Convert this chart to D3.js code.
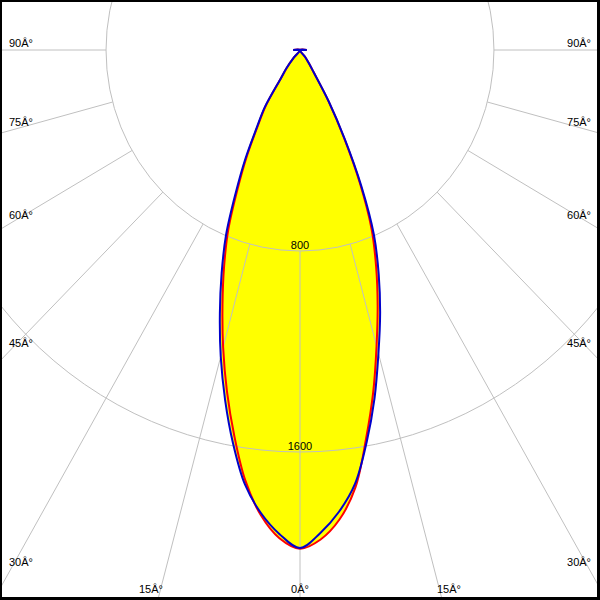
<!DOCTYPE html>
<html>
<head>
<meta charset="utf-8">
<script src="https://cdn.jsdelivr.net/npm/d3@7"></script>
<style>
  html, body { margin: 0; padding: 0; background: #fff; }
  svg { display: block; }
  text { font-family: "Liberation Sans", Arial, sans-serif; font-size: 11px; fill: #000; }
</style>
</head>
<body>
<svg id="chart" width="600" height="600"></svg>
<script>
// ---- data ----
const angles = [-90,-85,-80,-75,-70,-65,-60,-55,-50,-45,-40,-37.5,-35,-32.5,-30,-27.5,-25,-22.5,-20,-17.5,-15,-12.5,-10,-7.5,-5,-2.5,
  0,2.5,5,7.5,10,12.5,15,17.5,20,22.5,25,27.5,30,32.5,35,37.5,40,45,50,55,60,65,70,75,80,85,90];
// C90-C270 plane (blue)
const blueValues = [28,0,0,0,0,0,0,0,0,0,40,92,138,271,357,487,627,797,945,1099,1263,1427,1590,1743,1850,1929,
  1982,1924,1845,1741,1584,1420,1250,1099,949,797,600,400,240,105,62,35,0,0,0,0,0,0,0,0,0,0,28];
// C0-C180 plane (red)
const redValues = [28,0,0,0,0,0,0,0,0,0,40,90,135,262,347,472,608,772,915,1063,1225,1392,1560,1728,1858,1945,
  1985,1950,1875,1755,1570,1395,1220,1065,918,772,585,390,235,103,60,35,0,0,0,0,0,0,0,0,0,0,28];
const ringValues = [800, 1600];
const spokeAngles = [-90,-75,-60,-45,-30,-15,0,15,30,45,60,75,90];
const angleLabels = [
  {text: "90Â°", x: 9,   y: 47,  anchor: "start"},
  {text: "75Â°", x: 9,   y: 126, anchor: "start"},
  {text: "60Â°", x: 9,   y: 219, anchor: "start"},
  {text: "45Â°", x: 9,   y: 347, anchor: "start"},
  {text: "30Â°", x: 9,   y: 566, anchor: "start"},
  {text: "15Â°", x: 151, y: 593, anchor: "middle"},
  {text: "0Â°",  x: 300, y: 593, anchor: "middle"},
  {text: "15Â°", x: 449, y: 593, anchor: "middle"},
  {text: "30Â°", x: 591, y: 566, anchor: "end"},
  {text: "45Â°", x: 591, y: 347, anchor: "end"},
  {text: "60Â°", x: 591, y: 219, anchor: "end"},
  {text: "75Â°", x: 591, y: 126, anchor: "end"},
  {text: "90Â°", x: 591, y: 47,  anchor: "end"}
];

// ---- geometry ----
const W = 600, H = 600;
const cx = 300, cy = 50, kx = 0.965;
const r = d3.scaleLinear().domain([0, 1600]).range([0, 402]);
function pt(angleDeg, I) {
  const a = angleDeg * Math.PI / 180;
  return [cx + r(I) * Math.sin(a) * kx, cy + r(I) * Math.cos(a)];
}

const svg = d3.select("#chart");
svg.append("rect").attr("x", 0).attr("y", 0).attr("width", W).attr("height", H).attr("fill", "#000");
svg.append("rect").attr("x", 2).attr("y", 2).attr("width", 595).attr("height", 595).attr("fill", "#fff");

svg.append("defs").append("clipPath").attr("id", "clip")
  .append("rect").attr("x", 2).attr("y", 2).attr("width", 595).attr("height", 595);
const g = svg.append("g").attr("clip-path", "url(#clip)");

// build curve points; drop repeated centre points so the smoothing stays clean
function curvePoints(vals) {
  const pts = [];
  angles.forEach((a, i) => {
    const p = pt(a, vals[i]);
    const prev = pts[pts.length - 1];
    if (!prev || Math.hypot(prev[0] - p[0], prev[1] - p[1]) > 0.01) pts.push(p);
  });
  return pts;
}
const blue = curvePoints(blueValues);
const red = curvePoints(redValues);
const line = d3.line().curve(d3.curveCatmullRomClosed.alpha(0.5));

// yellow fill (union of both curves)
g.append("path").attr("d", line(red)).attr("fill", "#ffff00").attr("stroke", "none");
g.append("path").attr("d", line(blue)).attr("fill", "#ffff00").attr("stroke", "none");

// grid
const gridColor = "#c0c0c0";
g.selectAll("ellipse.ring").data(ringValues).join("ellipse")
  .attr("class", "ring")
  .attr("cx", cx).attr("cy", cy)
  .attr("rx", d => r(d) * kx).attr("ry", d => r(d))
  .attr("fill", "none").attr("stroke", gridColor).attr("stroke-width", 1);

g.selectAll("line.spoke").data(spokeAngles).join("line")
  .attr("class", "spoke")
  .attr("x1", d => pt(d, ringValues[0])[0]).attr("y1", d => pt(d, ringValues[0])[1])
  .attr("x2", d => pt(d, 5000)[0]).attr("y2", d => pt(d, 5000)[1])
  .attr("stroke", gridColor).attr("stroke-width", 1);

// ring labels
g.selectAll("text.ringlabel").data(ringValues).join("text")
  .attr("class", "ringlabel")
  .attr("x", cx).attr("y", d => cy + r(d) - 2)
  .attr("text-anchor", "middle")
  .text(d => d);

// curves
g.append("path").attr("d", line(red)).attr("fill", "none").attr("stroke", "#ff0000").attr("stroke-width", 2);
g.append("path").attr("d", line(blue)).attr("fill", "none").attr("stroke", "#0000cc").attr("stroke-width", 2);

// angle labels
g.selectAll("text.alabel").data(angleLabels).join("text")
  .attr("class", "alabel")
  .attr("x", d => d.x).attr("y", d => d.y)
  .attr("text-anchor", d => d.anchor)
  .text(d => d.text);
</script>
</body>
</html>
